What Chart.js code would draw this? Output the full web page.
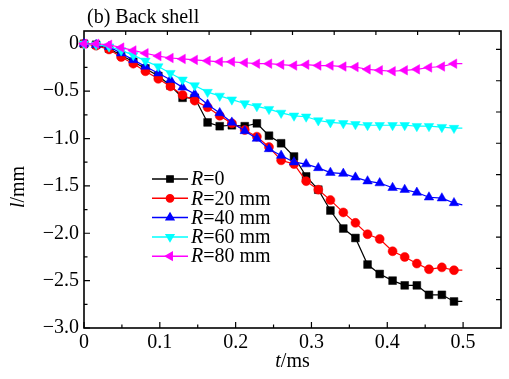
<!DOCTYPE html>
<html><head><meta charset="utf-8">
<script src="https://cdn.jsdelivr.net/npm/chart.js@4/dist/chart.umd.min.js"></script>
<style>html,body{margin:0;padding:0;background:#fff}</style>
</head><body>
<canvas id="c" width="509" height="379"></canvas>
<script>
const times = [0, 0.016, 0.033, 0.049, 0.065, 0.081, 0.098, 0.114, 0.130, 0.146, 0.163, 0.179, 0.195, 0.212, 0.228, 0.244, 0.260, 0.277, 0.293, 0.309, 0.325, 0.342, 0.358, 0.374, 0.390, 0.407, 0.423, 0.439, 0.455, 0.472, 0.488, 0.499];
const seriesNames = ['0', '20 mm', '40 mm', '60 mm', '80 mm'];
const r0 = [0, -0.01, -0.05, -0.12, -0.19, -0.26, -0.34, -0.44, -0.57, -0.57, -0.83, -0.87, -0.86, -0.87, -0.84, -0.97, -1.05, -1.19, -1.40, -1.54, -1.76, -1.95, -2.05, -2.33, -2.43, -2.50, -2.55, -2.55, -2.65, -2.65, -2.72, -2.72];
const r20 = [0, -0.02, -0.06, -0.14, -0.21, -0.29, -0.37, -0.45, -0.54, -0.60, -0.67, -0.76, -0.84, -0.91, -0.98, -1.09, -1.23, -1.27, -1.45, -1.54, -1.65, -1.78, -1.89, -2.01, -2.06, -2.19, -2.25, -2.32, -2.38, -2.36, -2.39, -2.39];
const r40 = [0, -0.01, -0.03, -0.10, -0.17, -0.24, -0.31, -0.38, -0.46, -0.53, -0.64, -0.73, -0.83, -0.92, -1.00, -1.11, -1.18, -1.25, -1.27, -1.31, -1.36, -1.37, -1.41, -1.45, -1.47, -1.52, -1.54, -1.57, -1.62, -1.63, -1.68, -1.70];
const r60 = [0, -0.01, -0.03, -0.07, -0.12, -0.18, -0.24, -0.31, -0.38, -0.44, -0.51, -0.55, -0.59, -0.63, -0.66, -0.69, -0.73, -0.76, -0.77, -0.81, -0.83, -0.84, -0.85, -0.86, -0.86, -0.86, -0.86, -0.87, -0.87, -0.88, -0.89, -0.89];
const r80 = [0, 0.00, -0.01, -0.04, -0.07, -0.10, -0.13, -0.15, -0.16, -0.17, -0.18, -0.19, -0.19, -0.20, -0.21, -0.21, -0.22, -0.23, -0.22, -0.23, -0.23, -0.24, -0.245, -0.27, -0.28, -0.29, -0.28, -0.27, -0.25, -0.24, -0.21, -0.21];
const xTickValues = [0, 0.1, 0.2, 0.3, 0.4, 0.5];
const xMinorTicks = [0.05, 0.15, 0.25, 0.35, 0.45];
const yTickValues = [0, -0.5, -1.0, -1.5, -2.0, -2.5, -3.0];
const yMinorTicks = [-0.25, -0.75, -1.25, -1.75, -2.25, -2.75];
const xTopTicks = [0.055, 0.11, 0.165, 0.22, 0.275, 0.33, 0.385, 0.44, 0.495];
const yRightTicks = [-0.06, -0.39, -0.72, -1.05, -1.38, -1.71, -2.04, -2.37, -2.70];

const FONT = 'Liberation Serif, Times New Roman, serif';
const colors = ['#000000', '#ff0000', '#0000ff', '#00ffff', '#ff00ff'];
const styles = [
  {pointStyle: 'rect', rotation: 0, radius: 5.5},
  {pointStyle: 'circle', rotation: 0, radius: 4.5},
  {pointStyle: 'triangle', rotation: 0, radius: 5.5},
  {pointStyle: 'triangle', rotation: 180, radius: 5.5},
  {pointStyle: 'triangle', rotation: -90, radius: 5.5}
];
const allSeries = [r0, r20, r40, r60, r80];

const datasets = allSeries.map((vals, k) => ({
  label: 'R=' + seriesNames[k],
  data: times.map((t, i) => ({x: t, y: vals[i]})),
  borderColor: colors[k],
  backgroundColor: colors[k],
  borderWidth: 1.2,
  pointStyle: styles[k].pointStyle,
  pointRotation: styles[k].rotation,
  pointRadius: (ctx) => ctx.dataIndex === times.length - 1 ? 0 : styles[k].radius,
  pointBorderWidth: 0.5,
  tension: 0,
  clip: false
})).reverse();

const decor = {
  id: 'decor',
  beforeDatasetsDraw(chart) {
    const {ctx, chartArea: a, scales: {x, y}} = chart;
    ctx.save();
    ctx.strokeStyle = '#000';
    ctx.lineWidth = 1.6;
    ctx.strokeRect(a.left, a.top, a.right - a.left, a.bottom - a.top);
    ctx.lineWidth = 1.2;
    ctx.beginPath();
    xTickValues.forEach(v => { const p = x.getPixelForValue(v); ctx.moveTo(p, a.bottom); ctx.lineTo(p, a.bottom - 6); });
    xMinorTicks.forEach(v => { const p = x.getPixelForValue(v); ctx.moveTo(p, a.bottom); ctx.lineTo(p, a.bottom - 3.5); });
    yTickValues.forEach(v => { const p = y.getPixelForValue(v); ctx.moveTo(a.left, p); ctx.lineTo(a.left + 6, p); });
    yMinorTicks.forEach(v => { const p = y.getPixelForValue(v); ctx.moveTo(a.left, p); ctx.lineTo(a.left + 3.5, p); });
    xTopTicks.forEach(v => { const p = x.getPixelForValue(v); ctx.moveTo(p, a.top); ctx.lineTo(p, a.top + 4); });
    yRightTicks.forEach(v => { const p = y.getPixelForValue(v); ctx.moveTo(a.right, p); ctx.lineTo(a.right - 5, p); });
    ctx.stroke();
    ctx.restore();
  },
  afterDraw(chart) {
    const {ctx, chartArea: a} = chart;
    ctx.save();
    ctx.fillStyle = '#000';
    // panel title
    ctx.font = '20px ' + FONT;
    ctx.textAlign = 'left';
    ctx.textBaseline = 'alphabetic';
    ctx.fillText('(b) Back shell', 87, 23);
    // x axis title
    const drawMixed = (parts, cx, cy) => {
      let w = 0;
      parts.forEach(p => { ctx.font = (p[1] ? 'italic ' : '') + '20px ' + FONT; w += ctx.measureText(p[0]).width; });
      let xx = cx - w / 2;
      parts.forEach(p => { ctx.font = (p[1] ? 'italic ' : '') + '20px ' + FONT; ctx.fillText(p[0], xx, cy); xx += ctx.measureText(p[0]).width; });
    };
    ctx.textBaseline = 'middle';
    drawMixed([['t', true], ['/ms', false]], (a.left + a.right) / 2, 362);
    ctx.save();
    ctx.translate(19, 187);
    ctx.rotate(-Math.PI / 2);
    drawMixed([['l', true], ['/mm', false]], 0, 0);
    ctx.restore();
    // legend
    const rowY = [179, 198.3, 217.6, 236.9, 256.2];
    allSeries.forEach((s, k) => {
      const yy = rowY[k];
      ctx.strokeStyle = colors[k];
      ctx.fillStyle = colors[k];
      ctx.lineWidth = 1.5;
      ctx.beginPath(); ctx.moveTo(152, yy); ctx.lineTo(188, yy); ctx.stroke();
      Chart.helpers.drawPoint(ctx, {pointStyle: styles[k].pointStyle, rotation: styles[k].rotation, radius: styles[k].radius * 0.8, borderWidth: 0.5}, 170, yy);
      ctx.fillStyle = '#000';
      ctx.textAlign = 'left';
      ctx.textBaseline = 'middle';
      ctx.font = 'italic 20px ' + FONT;
      ctx.fillText('R', 191, yy + 1);
      const wR = ctx.measureText('R').width;
      ctx.font = '20px ' + FONT;
      ctx.fillText('=' + seriesNames[k], 191 + wR, yy + 1);
    });
    ctx.restore();
  }
};

new Chart(document.getElementById('c'), {
  type: 'line',
  data: {datasets},
  options: {
    responsive: false,
    animation: false,
    devicePixelRatio: 1,
    layout: {padding: {left: 0, top: 31, right: 8, bottom: 0}},
    plugins: {legend: {display: false}, tooltip: {enabled: false}},
    scales: {
      x: {
        type: 'linear', min: 0, max: 0.55,
        grid: {display: false, drawTicks: false},
        border: {display: false},
        afterBuildTicks: s => { s.ticks = xTickValues.map(v => ({value: v})); },
        afterFit: s => { s.height = 51; },
        ticks: {
          color: '#000', padding: 3, maxRotation: 0, autoSkip: false,
          font: {family: FONT, size: 20},
          callback: v => v === 0 ? '0' : v.toFixed(1)
        }
      },
      y: {
        type: 'linear', min: -3.0, max: 0.135,
        grid: {display: false, drawTicks: false},
        border: {display: false},
        afterBuildTicks: s => { s.ticks = yTickValues.map(v => ({value: v})); },
        afterFit: s => { s.width = 84; },
        ticks: {
          color: '#000', padding: 5, autoSkip: false,
          font: {family: FONT, size: 20},
          callback: v => v === 0 ? '0' : '\u2212' + Math.abs(v).toFixed(1)
        }
      }
    }
  },
  plugins: [decor]
});
</script>
</body></html>
